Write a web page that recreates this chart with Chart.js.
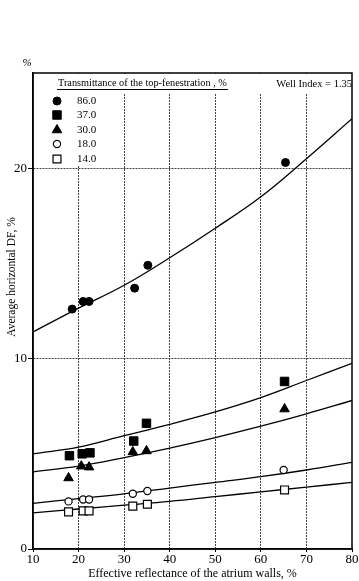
<!DOCTYPE html>
<html>
<head>
<meta charset="utf-8">
<script src="https://cdn.jsdelivr.net/npm/chart.js@4"></script>
<style>
  html, body { margin: 0; padding: 0; background: #fff; }
</style>
</head>
<body>
<canvas id="dfChart" width="359" height="581"></canvas>
<script>
// tick labels
const xTicks = [10, 20, 30, 40, 50, 60, 70, 80];
const yTicks = [0, 10, 20];

// legend: transmittance of the top-fenestration, %
const transmittance = ['86.0', '37.0', '30.0', '18.0', '14.0'];

// measured points (effective reflectance %, average horizontal DF %)
const refl86 = [18.6, 21.0, 22.3, 32.3, 35.2, 65.4];
const df86   = [12.6, 13.0, 13.0, 13.7, 14.9, 20.3];
const refl37 = [18.0, 20.8, 22.5, 32.1, 34.9, 65.2];
const df37   = [4.9, 5.0, 5.05, 5.67, 6.6, 8.8];
const refl30 = [17.8, 20.6, 22.3, 31.9, 34.9, 65.2];
const df30   = [3.73, 4.35, 4.3, 5.1, 5.15, 7.35];
const refl18 = [17.8, 21.0, 22.3, 31.9, 35.1, 65.0];
const df18   = [2.5, 2.6, 2.6, 2.9, 3.05, 4.15];
const refl14 = [17.8, 21.0, 22.3, 31.9, 35.1, 65.2];
const df14   = [1.95, 2.0, 2.0, 2.25, 2.35, 3.1];

// fitted curves, read at each x tick
const curve86 = [11.4, 12.65, 13.85, 15.3, 16.85, 18.5, 20.5, 22.6];
const curve37 = [5.0, 5.35, 5.95, 6.55, 7.2, 7.95, 8.85, 9.75];
const curve30 = [4.05, 4.35, 4.8, 5.3, 5.85, 6.45, 7.1, 7.8];
const curve18 = [2.4, 2.65, 2.9, 3.2, 3.5, 3.8, 4.15, 4.55];
const curve14 = [1.9, 2.1, 2.3, 2.5, 2.75, 3.0, 3.25, 3.5];

const serif = "'Liberation Serif', 'DejaVu Serif', serif";

function pts(xs, ys) {
  return xs.map((x, i) => ({ x: x, y: ys[i] }));
}

const markers = [
  { style: 'circle',   radius: 4,   fill: '#000', width: 1 },
  { style: 'rect',     radius: 6,   fill: '#000', width: 1 },
  { style: 'triangle', radius: 5.5, fill: '#000', width: 1 },
  { style: 'circle',   radius: 3.6, fill: '#fff', width: 1.2 },
  { style: 'rect',     radius: 5.6, fill: '#fff', width: 1.2 }
];

function scatterSet(label, xs, ys, m) {
  return {
    type: 'scatter',
    label: label,
    data: pts(xs, ys),
    pointStyle: m.style,
    pointRadius: m.radius,
    pointBackgroundColor: m.fill,
    pointBorderColor: '#000',
    pointBorderWidth: m.width,
    showLine: false
  };
}

function curveSet(ys) {
  return {
    type: 'line',
    data: pts(xTicks, ys),
    borderColor: '#000',
    borderWidth: 1.3,
    pointRadius: 0,
    tension: 0.4,
    fill: false
  };
}

// legend box, title line and free-placed texts
const annotations = {
  id: 'annotations',
  beforeDatasetsDraw(chart) {
    const ctx = chart.ctx, a = chart.chartArea;
    ctx.save();
    ctx.fillStyle = '#fff';
    ctx.fillRect(a.left + 1, a.top + 1, a.right - a.left - 2, 19);
    ctx.fillRect(a.left + 1, a.top + 1, 75, 92);
    ctx.restore();
  },
  afterDraw(chart) {
    const ctx = chart.ctx, a = chart.chartArea;
    ctx.save();
    // frame
    ctx.strokeStyle = '#000';
    ctx.lineWidth = 1.5;
    ctx.strokeRect(a.left, a.top, a.right - a.left, a.bottom - a.top);

    ctx.fillStyle = '#000';
    ctx.textBaseline = 'middle';
    // legend title
    ctx.font = '10.3px ' + serif;
    ctx.textAlign = 'left';
    const title = 'Transmittance of the top-fenestration , %';
    ctx.fillText(title, 58, 83);
    const w = ctx.measureText(title).width;
    ctx.lineWidth = 1;
    ctx.beginPath();
    ctx.moveTo(57, 89.5);
    ctx.lineTo(58 + w + 1, 89.5);
    ctx.stroke();

    ctx.textAlign = 'right';
    ctx.font = '10.5px ' + serif;
    ctx.fillText('Well Index = 1.35', 352, 84);

    // legend entries
    const rows = [101, 115, 130, 144, 159];
    ctx.textAlign = 'left';
    ctx.font = '11px ' + serif;
    transmittance.forEach((t, i) => {
      const m = markers[i];
      ctx.fillStyle = m.fill;
      ctx.strokeStyle = '#000';
      ctx.lineWidth = m.width;
      Chart.helpers.drawPoint(ctx, { pointStyle: m.style, radius: m.radius, borderWidth: m.width, rotation: 0 }, 57, rows[i]);
      ctx.fillStyle = '#000';
      ctx.fillText(t, 77, rows[i] + 0.5);
    });

    // unit mark above the y axis
    ctx.font = 'italic 11px ' + serif;
    ctx.textAlign = 'center';
    ctx.fillText('%', 27, 63);

    // y axis title
    ctx.translate(12, 277);
    ctx.rotate(-Math.PI / 2);
    ctx.font = '11.5px ' + serif;
    ctx.textAlign = 'center';
    ctx.fillText('Average horizontal DF, %', 0, 0);
    ctx.restore();
  }
};

new Chart(document.getElementById('dfChart'), {
  data: {
    datasets: [
      scatterSet(transmittance[0], refl86, df86, markers[0]),
      scatterSet(transmittance[1], refl37, df37, markers[1]),
      scatterSet(transmittance[2], refl30, df30, markers[2]),
      scatterSet(transmittance[3], refl18, df18, markers[3]),
      scatterSet(transmittance[4], refl14, df14, markers[4]),
      curveSet(curve86),
      curveSet(curve37),
      curveSet(curve30),
      curveSet(curve18),
      curveSet(curve14)
    ]
  },
  options: {
    responsive: false,
    animation: false,
    devicePixelRatio: 1,
    layout: { padding: { top: 73, right: 5, left: 0, bottom: 0 } },
    plugins: {
      legend: { display: false },
      tooltip: { enabled: false }
    },
    scales: {
      x: {
        type: 'linear',
        min: 10,
        max: 80,
        afterBuildTicks: (s) => { s.ticks = xTicks.map(v => ({ value: v })); },
        afterFit: (s) => { s.height = 32; s.paddingLeft = 0; s.paddingRight = 0; },
        ticks: { color: '#000', font: { family: serif, size: 13 }, padding: 0, maxRotation: 0 },
        grid: {
          color: (c) => (c.tick && (c.tick.value === 10 || c.tick.value === 80)) ? 'rgba(0,0,0,0)' : '#444',
          lineWidth: 1,
          tickLength: 3,
          tickColor: '#000',
          tickBorderDash: []
        },
        border: { display: true, color: '#000', width: 1.5, dash: [2, 1] },
        title: {
          display: true,
          text: 'Effective reflectance of the atrium walls, %',
          color: '#000',
          font: { family: serif, size: 12 },
          padding: { top: 0, bottom: 0 }
        }
      },
      y: {
        type: 'linear',
        min: 0,
        max: 25,
        afterBuildTicks: (s) => { s.ticks = yTicks.map(v => ({ value: v })); },
        afterFit: (s) => { s.width = 33; s.paddingTop = 0; s.paddingBottom = 0; },
        ticks: { color: '#000', font: { family: serif, size: 13 }, padding: 1 },
        grid: {
          color: (c) => (c.tick && c.tick.value === 0) ? 'rgba(0,0,0,0)' : '#444',
          lineWidth: 1,
          tickLength: 5,
          tickColor: '#000',
          tickBorderDash: []
        },
        border: { display: true, color: '#000', width: 1.5, dash: [2, 1] }
      }
    }
  },
  plugins: [annotations]
});
</script>
</body>
</html>
